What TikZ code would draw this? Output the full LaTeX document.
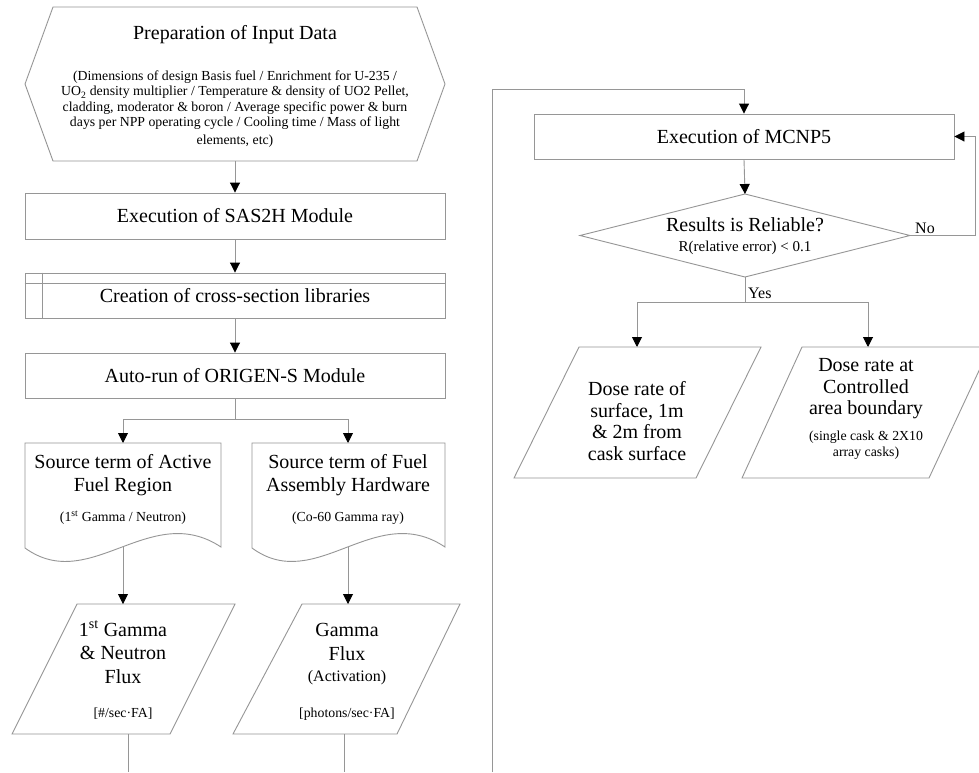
\documentclass[tikz,border=0pt]{standalone}
\usepackage{fontspec}
\setmainfont{Liberation Serif}
\usetikzlibrary{arrows.meta,calc}
\definecolor{ln}{RGB}{150,150,150}
\begin{document}
\begin{tikzpicture}[x=1pt,y=-1pt,
  shp/.style={draw=ln, line width=0.9pt},
  con/.style={draw=ln, line width=0.9pt},
  arr/.style={con, -{Triangle[length=10pt,width=10pt,black]}},
  box/.style={shp, rectangle, minimum width=420pt, inner sep=0pt,
    font=\fontsize{20}{23.5}\selectfont},
  big/.style={font=\fontsize{20}{23.5}\selectfont, align=center, inner sep=0pt},
  sub/.style={font=\fontsize{13.8}{15.5}\selectfont, align=center, inner sep=0pt},
  mid/.style={font=\fontsize{16}{18}\selectfont, align=center, inner sep=0pt},
  lbl/.style={font=\fontsize{16}{18}\selectfont, inner sep=0pt}]
\fill[white] (0,0) rectangle (979,772);
\clip (0,0) rectangle (979,772);

% ---------- left column ----------
\draw[shp] (25,84) -- (53,7) -- (417,7) -- (445,84) -- (417,161) -- (53,161) -- cycle;
\coordinate (prepS) at (235,161);
\node[big] (prepT) at (235,35) {Preparation of Input Data};
\node[sub] (prepB) at (235,109) {(Dimensions of design Basis fuel / Enrichment for U-235 /\\
  UO\textsubscript{2} density multiplier / Temperature \& density of UO2 Pellet,\\
  cladding, moderator \& boron / Average specific power \& burn\\
  days per NPP operating cycle / Cooling time / Mass of light\\[2pt]
  elements, etc)};

\node[box, minimum height=46pt] (sas) at (235,216) {Execution of SAS2H Module};
\node[box, minimum height=45pt] (cre) at (235,295.5) {Creation of cross-section libraries};
\draw[shp] ($(cre.north west)+(0,11)$) -- ($(cre.north east)+(0,11)$);
\draw[shp] ($(cre.north west)+(18,0)$) -- ($(cre.south west)+(18,0)$);
\node[box, minimum height=45pt] (ori) at (235,375.5) {Auto-run of ORIGEN-S Module};

\draw[arr] (prepS) -- (sas.north);
\draw[arr] (sas.south) -- (cre.north);
\draw[arr] (cre.south) -- (ori.north);

\coordinate (br) at (235,419);
\coordinate (docAN) at (123,443);
\coordinate (docBN) at (348,443);
\draw[con] (ori.south) -- (br);
\draw[arr] (br) -| (docAN);
\draw[arr] (br) -| (docBN);

% documents
\draw[shp] (25,548) -- (25,443) -- (221,443) -- (221,547)
  .. controls (150,500) and (90,595) .. (25,548);
\draw[shp] (252,548) -- (252,443) -- (445,443) -- (445,547)
  .. controls (375,500) and (316,595) .. (252,548);
\coordinate (docAS) at (123,547);
\coordinate (docBS) at (348,547);
\node[big] (docAT) at (123,475) {Source term of Active\\Fuel Region};
\node[sub] (docAB) at (123,518) {(1\textsuperscript{st} Gamma / Neutron)};
\node[big] (docBT) at (348,475) {Source term of Fuel\\Assembly Hardware};
\node[sub] (docBB) at (348,518) {(Co-60 Gamma ray)};

% parallelograms
\draw[shp] (77,604) -- (235,604) -- (170,734) -- (12,734) -- cycle;
\draw[shp] (302,604) -- (460,604) -- (397,734) -- (233,734) -- cycle;
\coordinate (paAN) at (123,604);
\coordinate (paBN) at (348,604);
\coordinate (paAS) at (128,734);
\coordinate (paBS) at (344,734);
\coordinate (endA) at (128,772);
\coordinate (endB) at (344,772);
\draw[arr] (docAS) -- (paAN);
\draw[arr] (docBS) -- (paBN);
\draw[con] (paAS) -- (endA);
\draw[con] (paBS) -- (endB);

\node[big] (paAT) at (123,652) {1\textsuperscript{st} Gamma\\\& Neutron\\Flux};
\node[sub] (paAB) at (123,714) {[\#/sec·FA]};
\node[big] (paBT) at (347,642) {Gamma\\Flux};
\node[mid] (paBM) at (347,678) {(Activation)};
\node[sub] (paBB) at (347,714) {[photons/sec·FA]};

% ---------- right column ----------
\coordinate (loopB) at (492,772);
\coordinate (loopT) at (492,89);
\node[box, minimum height=45pt] (mc) at (744,136.5) {Execution of MCNP5};
\draw[arr] (loopB) -- (loopT) -| (mc.north);

\coordinate (dN) at (745,194);
\coordinate (dE) at (910,235.5);
\coordinate (dS) at (745,277);
\coordinate (dW) at (580,235.5);
\draw[shp] (dN) -- (dE) -- (dS) -- (dW) -- cycle;
\node[big] (dT) at (745,225) {Results is Reliable?};
\node[sub, font=\fontsize{15}{17}\selectfont] (dB) at (745,248) {R(relative error) < 0.1};
\draw[arr] (mc.south) -- (dN);

\coordinate (noC) at (975,235.5);
\draw[arr] (dE) -- (noC) |- (mc.east);
\node[lbl, anchor=base west] (no) at (915,233) {No};

\coordinate (ys) at (745,302);
\coordinate (pcN) at (637,347);
\coordinate (pdN) at (868,347);
\draw[con] (dS) -- (ys);
\draw[arr] (ys) -| (pcN);
\draw[arr] (ys) -| (pdN);
\node[lbl, anchor=base west] (yes) at (748,298) {Yes};

\draw[shp] (579,347) -- (761,347) -- (696,478) -- (514,478) -- cycle;
\draw[shp] (802,347) -- (990,347) -- (929,478) -- (742,478) -- cycle;
\node[big, font=\fontsize{20}{21.5}\selectfont] (pcT) at (637,421) {Dose rate of\\surface, 1m\\\& 2m from\\cask surface};
\node[big, font=\fontsize{20}{21.5}\selectfont] (pdT) at (866,389) {Dose rate at\\Controlled\\area boundary};
\node[sub, font=\fontsize{13.8}{16.5}\selectfont] (pdB) at (866,445) {(single cask \& 2X10\\array casks)};
\end{tikzpicture}
\end{document}
